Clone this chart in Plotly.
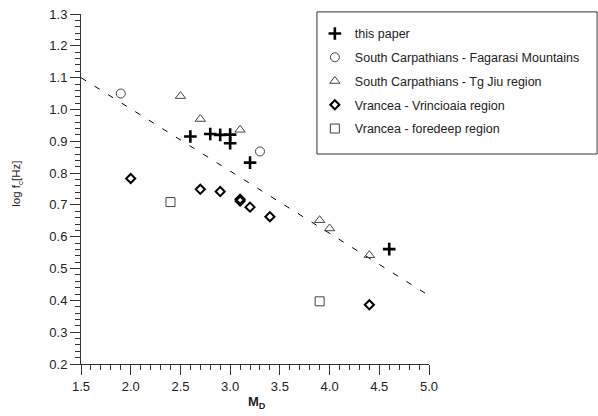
import plotly.graph_objects as go

# ---- data ----
paper_x = [2.6, 2.8, 2.9, 3.0, 3.0, 3.2, 4.6]
paper_y = [0.915, 0.923, 0.920, 0.921, 0.894, 0.833, 0.561]

fag_x = [1.9, 3.3]
fag_y = [1.050, 0.868]

tgjiu_x = [2.5, 2.7, 3.1, 3.9, 4.0, 4.4]
tgjiu_y = [1.042, 0.970, 0.936, 0.652, 0.626, 0.542]

vrin_x = [2.0, 2.7, 2.9, 3.1, 3.1, 3.2, 3.4, 4.4]
vrin_y = [0.783, 0.749, 0.742, 0.718, 0.712, 0.693, 0.663, 0.386]

fore_x = [2.4, 3.9]
fore_y = [0.709, 0.397]

fit_x = [1.5, 5.0]
fit_y = [1.10, 0.415]

FONT = "Liberation Sans, Arial, sans-serif"
GREY = "#444444"

fig = go.Figure()

fig.add_trace(go.Scatter(x=fit_x, y=fit_y, mode="lines",
                         line=dict(color="black", width=1, dash="6px,10px"),
                         showlegend=False, hoverinfo="skip"))

fig.add_trace(go.Scatter(x=paper_x, y=paper_y, mode="markers", name="this paper",
                         legendgroup="a",
                         marker=dict(symbol="cross-thin-open", size=9, color="black",
                                     line=dict(color="black", width=2.6))))
fig.add_trace(go.Scatter(x=fag_x, y=fag_y, mode="markers",
                         name="South Carpathians - Fagarasi Mountains", legendgroup="b",
                         marker=dict(symbol="circle-open", size=9, color=GREY,
                                     line=dict(color=GREY, width=1))))
fig.add_trace(go.Scatter(x=tgjiu_x, y=tgjiu_y, mode="markers",
                         name="South Carpathians - Tg Jiu region", legendgroup="c",
                         marker=dict(symbol="triangle-up-open", size=9, color=GREY,
                                     line=dict(color=GREY, width=1))))
fig.add_trace(go.Scatter(x=vrin_x, y=vrin_y, mode="markers",
                         name="Vrancea - Vrincioaia region", legendgroup="d",
                         marker=dict(symbol="diamond-open", size=7, color="black",
                                     line=dict(color="black", width=2))))
fig.add_trace(go.Scatter(x=fore_x, y=fore_y, mode="markers",
                         name="Vrancea - foredeep region", legendgroup="e",
                         marker=dict(symbol="square-open", size=9, color=GREY,
                                     line=dict(color=GREY, width=1))))

axis_common = dict(
    showgrid=False, zeroline=False, showline=True, linecolor="#333333", linewidth=1,
    ticks="outside", ticklen=10, tickcolor="#333333", tickwidth=1,
    tickformat=".1f", tickfont=dict(family=FONT, size=13, color="#222222"),
)

fig.update_xaxes(range=[1.5, 5.0], tick0=1.5, dtick=0.5,
                 minor=dict(dtick=0.1, ticks="outside", ticklen=5,
                            tickcolor="#333333", tickwidth=1),
                 **axis_common)
fig.update_yaxes(range=[0.2, 1.3], tick0=0.2, dtick=0.1,
                 minor=dict(dtick=0.02, ticks="outside", ticklen=5,
                            tickcolor="#333333", tickwidth=1),
                 **axis_common)

# legend box
fig.add_shape(type="rect", xref="paper", yref="paper",
              x0=0.678, x1=1.483, y0=0.6, y1=1.006,
              line=dict(color="#333333", width=1), fillcolor="rgba(0,0,0,0)")

fig.add_annotation(text="log f<sub>c</sub>[Hz]", xref="paper", yref="paper",
                   x=-0.184, y=0.515, xanchor="center", yanchor="middle",
                   textangle=-90, showarrow=False,
                   font=dict(family=FONT, size=11.5, color="#222222"))
fig.add_annotation(text="<b>M</b><sub><b>D</b></sub>", xref="paper", yref="paper",
                   x=0.505, y=-0.08, xanchor="center", yanchor="top", showarrow=False,
                   font=dict(family=FONT, size=13, color="#222222"))

fig.update_layout(
    width=598, height=416,
    margin=dict(l=81, r=169, t=14, b=52, autoexpand=False),
    paper_bgcolor="white", plot_bgcolor="white",
    showlegend=True,
    legend=dict(x=0.672, y=0.986, xanchor="left", yanchor="top",
                bgcolor="rgba(0,0,0,0)", borderwidth=0,
                traceorder="grouped", tracegroupgap=4.5,
                font=dict(family=FONT, size=12.5, color="#222222")),
)

fig.write_html("out.html")
